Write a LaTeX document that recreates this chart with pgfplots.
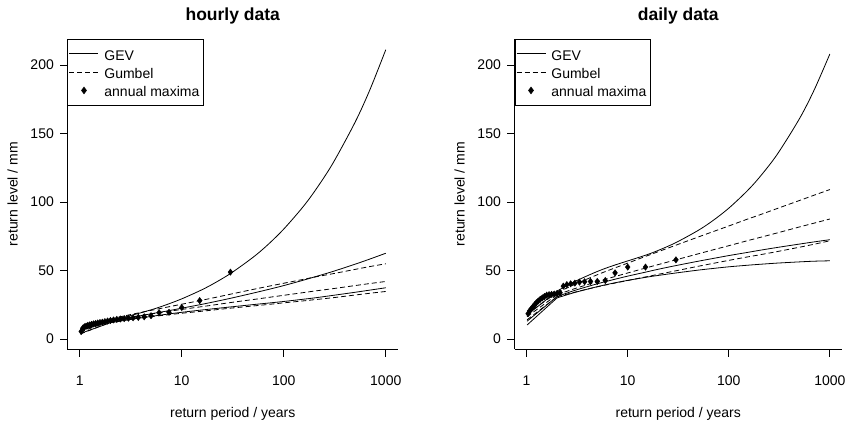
\documentclass[border=0pt]{standalone}
\usepackage{fontspec}
\setmainfont{Liberation Sans}
\usepackage{pgfplots}
\usepackage{pgfplotstable}
\pgfplotsset{compat=1.18}

\pgfplotstableread{
T      gevU   gevC  gevL  gumU  gumC  gumL
1.01   6.5    6.0   4.0   6.4   5.0   3.6
2      13.64  13.0  11.9  14.5  13.3  12.3
3      16.68  15.4  14.0  17.5  15.7  14.3
5      21.29  18.4  16.5  20.9  18.3  16.3
7      24.90  20.3  18.0  23.1  19.9  17.5
10     29.31  22.5  19.5  25.4  21.6  18.8
15     35.18  25.0  21.0  28.0  23.4  20.1
20     39.97  26.9  22.0  29.9  24.7  21.1
30     47.77  29.7  23.4  32.7  26.6  22.5
50     59.63  33.5  25.1  36.2  28.8  24.1
70     68.90  36.1  26.2  38.4  30.3  25.2
100    80.26  39.0  27.4  40.7  31.9  26.4
150    95.32  42.6  28.9  43.3  33.7  27.7
200    107.65 45.3  30.0  45.2  35.0  28.7
300    127.70 49.2  31.8  47.6  36.7  30.1
500    158.20 54.6  34.1  50.8  39.0  32.1
700    182.05 58.4  35.7  52.9  40.5  33.4
1000   211.16 62.6  37.4  54.9  42.0  34.7
}\hourly

\pgfplotstableread{
T      gevU   gevC  gevL  gumU  gumC  gumL
1.01   17.5   13.0  10.2  18.5  16.3  14.0
2      35.0   31.0  30.0  33.8  32.3  30.8
3      42.0   35.5  34.0  39.9  36.8  34.2
5      49.3   40.3  38.2  46.9  41.9  38.1
7      53.3   43.1  40.6  51.1  45.0  40.4
10     57.0   45.9  42.8  55.4  48.2  42.7
15     61.17  48.8  45.0  60.3  51.8  45.3
20     64.64  50.9  46.4  63.7  54.3  47.2
30     70.39  53.6  48.2  68.5  57.8  49.8
50     79.36  56.8  50.3  74.5  62.2  53.1
70     86.55  58.8  51.5  78.4  65.1  55.2
100    95.50  60.9  52.7  82.5  68.1  57.4
150    107.67 63.1  53.8  87.3  71.6  59.8
200    117.80 64.7  54.5  90.5  74.0  61.4
300    134.57 66.8  55.4  95.2  77.4  63.8
500    160.81 69.3  56.3  101.1 81.8  67.0
700    181.85 70.9  56.8  105.0 84.6  69.2
1000   208.07 72.5  57.1  109.1 87.6  71.7
}\daily

\pgfplotstableread{
T      y
30     48.8
15     28.0
10     23.0
7.5    19.5
6      19.2
5      17.0
4.286  16.2
3.75   15.8
3.333  15.5
3      15.2
2.727  14.9
2.5    14.6
2.308  14.3
2.143  13.9
2      13.5
1.875  13.1
1.765  12.7
1.667  12.3
1.579  12.0
1.5    11.7
1.429  11.3
1.364  11.0
1.304  10.7
1.25   10.3
1.2    9.9
1.154  9.4
1.111  8.9
1.071  7.9
1.034  5.5
}\hourlypts

\pgfplotstableread{
T      y
30     57.8
15     52.5
10     52.5
7.5    48.3
6      42.7
5      42.0
4.286  42.0
3.75   41.8
3.333  41.5
3      40.8
2.727  40.3
2.5    39.7
2.308  38.6
2.143  33.8
2      33.2
1.875  32.8
1.765  32.6
1.667  32.4
1.579  32.0
1.5    31.0
1.429  30.0
1.364  29.0
1.304  27.8
1.25   26.5
1.2    25.0
1.154  23.5
1.111  22.0
1.071  20.5
1.034  18.5
}\dailypts

\newcommand{\lblfont}{\fontsize{14pt}{16pt}\selectfont}
\newcommand{\ttlfont}{\bfseries\fontsize{17.5pt}{20pt}\selectfont}

\pgfplotsset{
  mylegline/.style={legend image code/.code={\draw[##1] (0pt,0pt) -- (29pt,0pt);}},
  mylegmark/.style={legend image code/.code={\draw[##1] plot coordinates {(14.5pt,0pt)};}},
}

% one curve: straight first segment (T 1.01 -> 2), smooth afterwards
\newcommand{\curve}[3]{%
  \addplot[black, line width=0.8pt, #3, forget plot, skip coords between index={2}{100}] table[x=T, y=#2] {#1};
  \addplot[black, line width=0.8pt, #3, smooth, forget plot, skip coords between index={0}{1}] table[x=T, y=#2] {#1};
}

\begin{document}
\begin{tikzpicture}
\useasboundingbox (0,0) rectangle (852pt,421pt);

\begin{axis}[at={(67.5pt,72pt)}, anchor=south west,
    scale only axis, width=330.5pt, height=310pt,
    xmode=log,
    xmin=0.7586, xmax=1318.3,
    ymin=-7.3, ymax=219,
    axis x line*=bottom,
    axis y line*=left,
    axis line style={-, black, line width=0.8pt},
    xtick={1,10,100,1000},
    xticklabels={1,10,100,1000},
    xminorticks=false,
    ytick={0,50,100,150,200},
    tick align=outside,
    major tick length=7.5pt,
    tick style={black, line width=0.8pt},
    /pgf/number format/assume math mode=true,
    ticklabel style={font=\lblfont},
    yticklabel style={anchor=east, inner sep=0pt, xshift=-6pt},
    xticklabel style={anchor=north, inner sep=0pt, yshift=-19pt},
    label style={font=\lblfont},
    xlabel={return period / years},
    ylabel={return level / mm},
    title={hourly data},
    title style={font=\ttlfont, at={(axis description cs:0.5,1.055)}, anchor=center},
    xlabel style={at={(axis description cs:0.5,-0.21)}, anchor=center},
    ylabel style={at={(axis description cs:-0.166,0.5)}, anchor=center},
    legend style={at={(0,1)}, anchor=north west, draw=black, line width=0.8pt,
      fill=white, font=\lblfont, inner xsep=1.2pt, inner ysep=5.3pt,
      row sep=0pt, column sep=3pt,
      nodes={inner xsep=2.5pt, inner ysep=1.65pt, text height=14pt, text depth=1pt}},
    legend cell align=left,
    clip=false]
\addlegendimage{black, line width=0.8pt, mylegline}
\addlegendentry{GEV}
\addlegendimage{black, line width=0.8pt, dash pattern=on 5pt off 3pt, mylegline}
\addlegendentry{Gumbel}
\addlegendimage{black, only marks, mark=diamond*, mark size=3.2pt, mylegmark}
\addlegendentry{annual maxima\hspace{4.5pt}}
\curve{\hourly}{gevU}{solid}
\curve{\hourly}{gevC}{solid}
\curve{\hourly}{gevL}{solid}
\curve{\hourly}{gumU}{dash pattern=on 5pt off 3pt}
\curve{\hourly}{gumC}{dash pattern=on 5pt off 3pt}
\curve{\hourly}{gumL}{dash pattern=on 5pt off 3pt}
\addplot[black, only marks, mark=diamond*, mark size=3.2pt, forget plot] table[x=T, y=y] {\hourlypts};
\end{axis}

\begin{axis}[at={(514.5pt,72pt)}, anchor=south west,
    scale only axis, width=327.5pt, height=310pt,
    xmode=log,
    xmin=0.7586, xmax=1318.3,
    ymin=-7.3, ymax=219,
    axis x line*=bottom,
    axis y line*=left,
    axis line style={-, black, line width=0.8pt},
    xtick={1,10,100,1000},
    xticklabels={1,10,100,1000},
    xminorticks=false,
    ytick={0,50,100,150,200},
    tick align=outside,
    major tick length=7.5pt,
    tick style={black, line width=0.8pt},
    /pgf/number format/assume math mode=true,
    ticklabel style={font=\lblfont},
    yticklabel style={anchor=east, inner sep=0pt, xshift=-6pt},
    xticklabel style={anchor=north, inner sep=0pt, yshift=-19pt},
    label style={font=\lblfont},
    xlabel={return period / years},
    ylabel={return level / mm},
    title={daily data},
    title style={font=\ttlfont, at={(axis description cs:0.5,1.055)}, anchor=center},
    xlabel style={at={(axis description cs:0.5,-0.21)}, anchor=center},
    ylabel style={at={(axis description cs:-0.1675,0.5)}, anchor=center},
    legend style={at={(0,1)}, anchor=north west, draw=black, line width=0.8pt,
      fill=white, font=\lblfont, inner xsep=1.2pt, inner ysep=5.3pt,
      row sep=0pt, column sep=3pt,
      nodes={inner xsep=2.5pt, inner ysep=1.65pt, text height=14pt, text depth=1pt}},
    legend cell align=left,
    clip=false]
\addlegendimage{black, line width=0.8pt, mylegline}
\addlegendentry{GEV}
\addlegendimage{black, line width=0.8pt, dash pattern=on 5pt off 3pt, mylegline}
\addlegendentry{Gumbel}
\addlegendimage{black, only marks, mark=diamond*, mark size=3.2pt, mylegmark}
\addlegendentry{annual maxima\hspace{4.5pt}}
\curve{\daily}{gevU}{solid}
\curve{\daily}{gevC}{solid}
\curve{\daily}{gevL}{solid}
\curve{\daily}{gumU}{dash pattern=on 5pt off 3pt}
\curve{\daily}{gumC}{dash pattern=on 5pt off 3pt}
\curve{\daily}{gumL}{dash pattern=on 5pt off 3pt}
\addplot[black, only marks, mark=diamond*, mark size=3.2pt, forget plot] table[x=T, y=y] {\dailypts};
\end{axis}
\end{tikzpicture}
\end{document}
